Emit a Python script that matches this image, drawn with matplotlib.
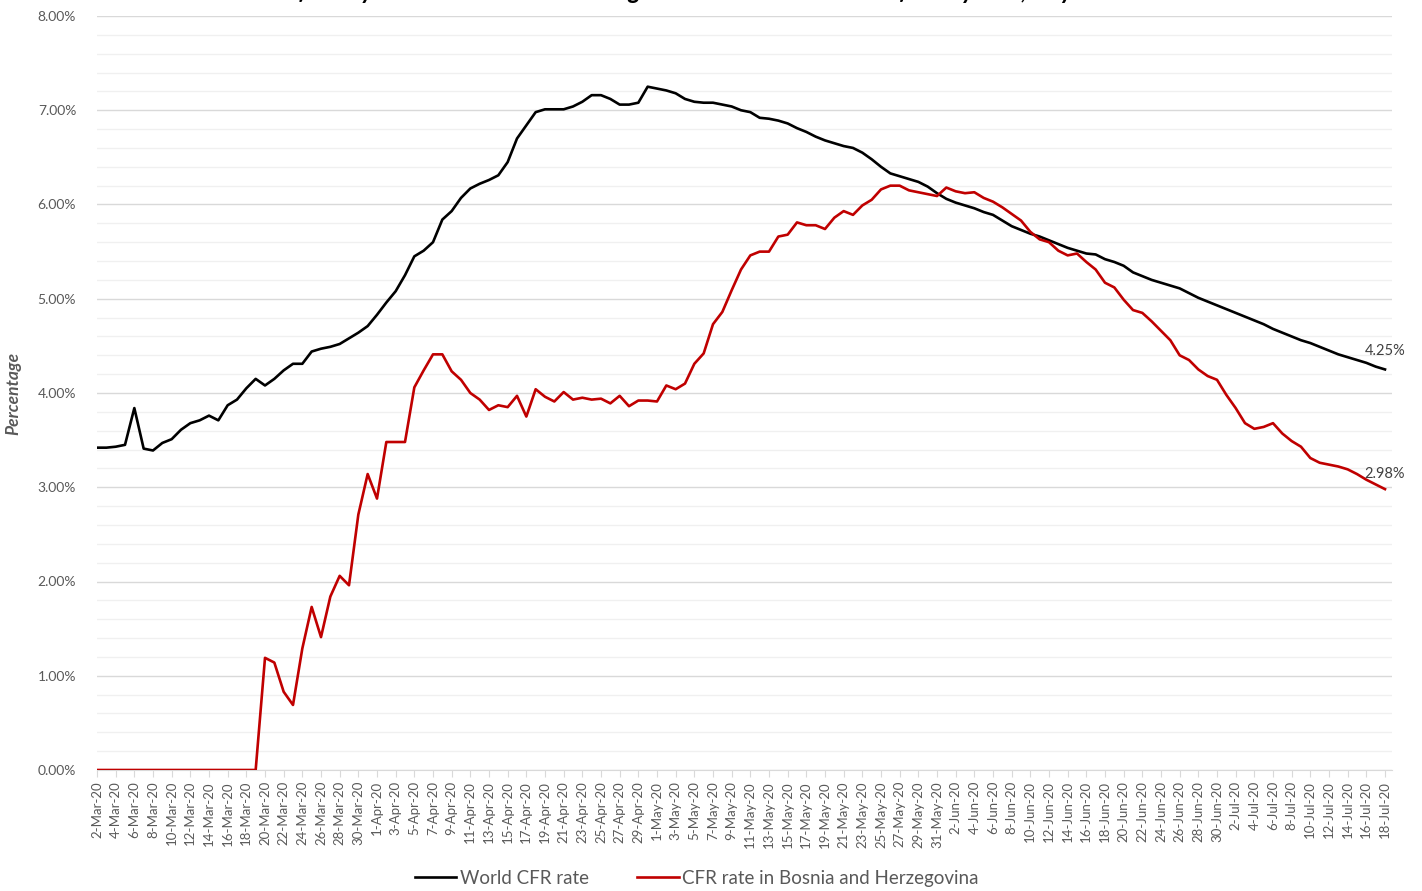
import matplotlib
matplotlib.use("Agg")
import matplotlib.pyplot as plt
from matplotlib.ticker import MultipleLocator, FuncFormatter
import numpy as np
import pandas as pd

plt.rcParams['font.family'] = ['Lato', 'DejaVu Sans']

# daily series, 2-Mar-20 .. 18-Jul-20 (values in %)
dates = pd.date_range("2020-03-02", "2020-07-18", freq="D")

world_cfr = [
    3.42, 3.42, 3.43, 3.45, 3.84, 3.41, 3.39, 3.47, 3.51, 3.61,
    3.68, 3.71, 3.76, 3.71, 3.87, 3.93, 4.05, 4.15, 4.08, 4.15,
    4.24, 4.31, 4.31, 4.44, 4.47, 4.49, 4.52, 4.58, 4.64, 4.71,
    4.83, 4.96, 5.08, 5.25, 5.45, 5.51, 5.60, 5.84, 5.93, 6.07,
    6.17, 6.22, 6.26, 6.31, 6.45, 6.70, 6.84, 6.98, 7.01, 7.01,
    7.01, 7.04, 7.09, 7.16, 7.16, 7.12, 7.06, 7.06, 7.08, 7.25,
    7.23, 7.21, 7.18, 7.12, 7.09, 7.08, 7.08, 7.06, 7.04, 7.00,
    6.98, 6.92, 6.91, 6.89, 6.86, 6.81, 6.77, 6.72, 6.68, 6.65,
    6.62, 6.60, 6.55, 6.48, 6.40, 6.33, 6.30, 6.27, 6.24, 6.19,
    6.12, 6.06, 6.02, 5.99, 5.96, 5.92, 5.89, 5.83, 5.77, 5.73,
    5.69, 5.66, 5.62, 5.58, 5.54, 5.51, 5.48, 5.47, 5.42, 5.39,
    5.35, 5.28, 5.24, 5.20, 5.17, 5.14, 5.11, 5.06, 5.01, 4.97,
    4.93, 4.89, 4.85, 4.81, 4.77, 4.73, 4.68, 4.64, 4.60, 4.56,
    4.53, 4.49, 4.45, 4.41, 4.38, 4.35, 4.32, 4.28, 4.25,
]

bih_cfr = [
    0, 0, 0, 0, 0, 0, 0, 0, 0, 0,
    0, 0, 0, 0, 0, 0, 0, 0, 1.19, 1.14,
    0.83, 0.69, 1.29, 1.73, 1.41, 1.84, 2.06, 1.96, 2.71, 3.14,
    2.88, 3.48, 3.48, 3.48, 4.06, 4.24, 4.41, 4.41, 4.23, 4.14,
    4.00, 3.93, 3.82, 3.87, 3.85, 3.97, 3.75, 4.04, 3.96, 3.91,
    4.01, 3.93, 3.95, 3.93, 3.94, 3.89, 3.97, 3.86, 3.92, 3.92,
    3.91, 4.08, 4.04, 4.10, 4.31, 4.42, 4.73, 4.86, 5.09, 5.31,
    5.46, 5.50, 5.50, 5.66, 5.68, 5.81, 5.78, 5.78, 5.74, 5.86,
    5.93, 5.89, 5.99, 6.05, 6.16, 6.20, 6.20, 6.15, 6.13, 6.11,
    6.09, 6.18, 6.14, 6.12, 6.13, 6.07, 6.03, 5.97, 5.90, 5.83,
    5.71, 5.63, 5.60, 5.51, 5.46, 5.48, 5.39, 5.31, 5.17, 5.12,
    4.99, 4.88, 4.85, 4.76, 4.66, 4.56, 4.40, 4.35, 4.25, 4.18,
    4.14, 3.98, 3.84, 3.68, 3.62, 3.64, 3.68, 3.57, 3.49, 3.43,
    3.31, 3.26, 3.24, 3.22, 3.19, 3.14, 3.08, 3.03, 2.98,
]

date_labels = [f"{d.day}-{d.strftime('%b-%y')}" for d in dates]

grey = "#595959"
x = np.arange(len(dates))

fig = plt.figure(figsize=(14.22, 8.91), dpi=100)
ax = fig.add_axes([97/1422, 1 - 770/891, (1392 - 97)/1422, (770 - 16)/891])

ax.plot(x, world_cfr, color="black", lw=1.9, label="World CFR rate", zorder=3)
ax.plot(x, bih_cfr, color="#c00000", lw=1.9, label="CFR rate in Bosnia and Herzegovina", zorder=3)

# end labels
ax.annotate(f"{world_cfr[-1]:.2f}%", (x[-1], world_cfr[-1]), xytext=(0, 13),
            textcoords="offset points", ha="center", va="center", fontsize=10.5, color="#404040")
ax.annotate(f"{bih_cfr[-1]:.2f}%", (x[-1], bih_cfr[-1]), xytext=(0, 11),
            textcoords="offset points", ha="center", va="center", fontsize=10.5, color="#404040")

ax.set_xlim(0, len(dates) - 1 + 0.75)
ax.set_ylim(0, 8)

ax.yaxis.set_major_locator(MultipleLocator(1))
ax.yaxis.set_minor_locator(MultipleLocator(0.2))
ax.yaxis.set_major_formatter(FuncFormatter(lambda v, p: f"{v:.2f}%"))
ax.grid(axis="y", which="major", color="#d9d9d9", lw=1.0, zorder=0)
ax.grid(axis="y", which="minor", color="#f0f0f0", lw=1.0, zorder=0)
ax.tick_params(axis="y", which="both", length=0, labelsize=10, labelcolor=grey, pad=15)

ax.set_xticks(x[::2])
ax.set_xticklabels(date_labels[::2], rotation=90, fontsize=9.5, color=grey)
ax.tick_params(axis="x", length=5, color="#d9d9d9", pad=3)

for s in ["top", "right", "left"]:
    ax.spines[s].set_visible(False)
ax.spines["bottom"].set_color("#d9d9d9")
ax.set_axisbelow(True)

ax.set_ylabel("Percentage", fontsize=12.5, fontweight="bold", style="italic", color=grey, labelpad=12)

fig.legend(loc="lower center", bbox_to_anchor=(0.49, -0.014), ncol=2, frameon=False,
           fontsize=13.5, labelcolor=grey, handlelength=2.2, handletextpad=0.2, columnspacing=2.6)

# title sits mostly above the canvas, as in the source image
fig.text(0.475, 1 + 1/891, "Case fatality rate in Bosnia and Herzegovina and the world case fatality rate, July 18",
         ha="center", va="baseline", fontsize=17.5, fontweight="bold", style="italic")

fig.savefig("out.png", dpi=100)
